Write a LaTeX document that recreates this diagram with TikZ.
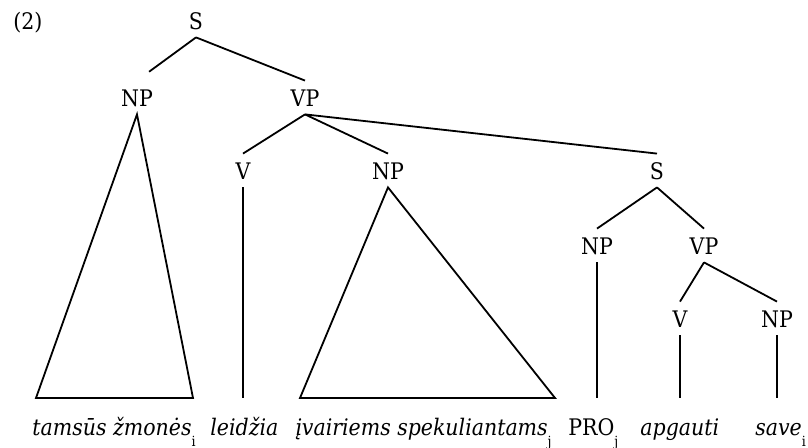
\documentclass[tikz,border=0pt]{standalone}
\usepackage{fontspec}
\setmainfont{DejaVu Serif Condensed}
\newcommand\idx[1]{\raisebox{-5.2pt}{\upshape\fontsize{7}{8}\selectfont #1}}
\begin{document}
\begin{tikzpicture}[x=0.5pt,y=-0.5pt,
  every node/.style={font=\fontsize{11.4}{14}\selectfont},
  cat/.style={anchor=base,inner xsep=0pt,inner ysep=3.5pt,text height=9.5pt,text depth=0pt},
  word/.style={anchor=base west,inner sep=0pt},
  branch/.style={line width=0.9pt,line join=miter}]
\useasboundingbox (0,0) rectangle (808,448);

% example number
\node[word] (num) at (13,30) {(2)};

% categories
\node[cat] (s0)   at (196,30)  {S};
\node[cat] (np1)  at (137,107) {NP};
\node[cat] (vp1)  at (305,107) {VP};
\node[cat] (v2)   at (243,180) {V};
\node[cat] (np2)  at (388,180) {NP};
\node[cat] (s2)   at (657,180) {S};
\node[cat] (np3)  at (597,255) {NP};
\node[cat] (vp3)  at (704,255) {VP};
\node[cat] (v4)   at (680,328) {V};
\node[cat] (np4)  at (777,328) {NP};

% ends of the lexical branches
\coordinate (np1L) at (36,398);
\coordinate (np1R) at (193,398);
\coordinate (np2L) at (300,398);
\coordinate (np2R) at (555,398);
\coordinate (v2b)  at (243,398);
\coordinate (np3b) at (597,398);
\coordinate (v4b)  at (680,398);
\coordinate (np4b) at (777,398);

% terminal string
\node[word] (w1) at (32,436)  {\itshape tamsūs žmonės\idx{i}};
\node[word] (w2) at (210,436) {\itshape leidžia};
\node[word] (w3) at (295,436) {\itshape įvairiems spekuliantams\idx{j}};
\node[word] (w4) at (568,436) {PRO\idx{j}};
\node[word] (w5) at (640,436) {\itshape apgauti};
\node[word] (w6) at (755,436) {\itshape save\idx{i}};

% branches
\draw[branch,shorten >=7.5pt] (s0.south) -- (np1.north);
\draw[branch] (s0.south) -- (vp1.north);
\draw[branch] (np1.south) -- (np1L) -- (np1R) -- cycle;
\draw[branch] (vp1.south) -- (v2.north);
\draw[branch] (vp1.south) -- (np2.north);
\draw[branch] (vp1.south) -- (s2.north);
\draw[branch] (v2.south) -- (v2b);
\draw[branch] (np2.south) -- (np2L) -- (np2R) -- cycle;
\draw[branch] (s2.south) -- (np3.north);
\draw[branch] (s2.south) -- (vp3.north);
\draw[branch] (np3.south) -- (np3b);
\draw[branch] (vp3.south) -- (v4.north);
\draw[branch] (vp3.south) -- (np4.north);
\draw[branch] (v4.south) -- (v4b);
\draw[branch] (np4.south) -- (np4b);
\end{tikzpicture}
\end{document}
